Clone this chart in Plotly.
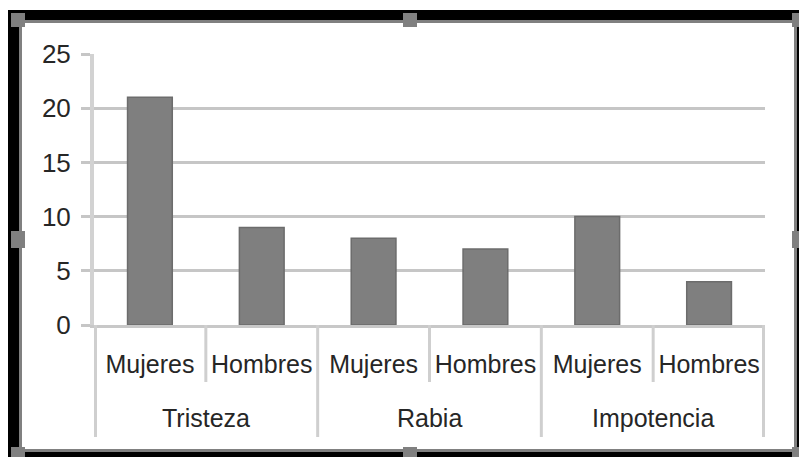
import plotly.graph_objects as go

# ---- data ----
groups = ["Tristeza", "Tristeza", "Rabia", "Rabia", "Impotencia", "Impotencia"]
subs = ["Mujeres", "Hombres", "Mujeres", "Hombres", "Mujeres", "Hombres"]
values = [21, 9, 8, 7, 10, 4]
y_ticks = [0, 5, 10, 15, 20, 25]

W, H = 799, 457
L, R, T, B = 94, 34, 54, 132
PW, PH = W - L - R, H - T - B

FONT = "Liberation Sans"
TXT = "#262626"
GRID = "#c6c6c6"

idx = list(range(len(values)))

fig = go.Figure()
fig.add_trace(go.Bar(
    x=idx, y=values,
    marker=dict(color="#7f7f7f", line=dict(color="#6c6c6c", width=1.5)),
    width=0.4, hoverinfo="skip",
))


def px_x(x):
    return (x - L) / PW


def px_y(y):
    return (T + PH - y) / PH


shapes = []
# category boundary lines below the axis
y_sub = px_y(382)
y_grp = px_y(437)
group_names = []
for g in groups:
    if g not in group_names:
        group_names.append(g)
bounds = [i - 0.5 for i in idx] + [idx[-1] + 0.5]
for b in bounds:
    i_left = int(b - 0.5) if b > 0 else None
    i_right = int(b + 0.5) if b + 0.5 < len(idx) else None
    is_group = (i_left is None or i_right is None or groups[i_left] != groups[i_right])
    shapes.append(dict(type="line", xref="x", yref="paper", x0=b, x1=b,
                       y0=0, y1=y_grp if is_group else y_sub,
                       line=dict(color="#cfcfcf", width=6 if (i_left is None or i_right is None) else 3),
                       layer="above"))

# frame (Excel selection border)
BLACK = "#000000"
GRAY = "#808080"


def rect(x0, y0, x1, y1, color):
    shapes.append(dict(type="rect", xref="paper", yref="paper",
                       x0=px_x(x0), x1=px_x(x1), y0=px_y(y1), y1=px_y(y0),
                       fillcolor=color, line=dict(width=0), layer="above"))


rect(8, 10, 810, 20, BLACK)
rect(8, 452, 810, 470, BLACK)
rect(8, 10, 19, 470, BLACK)
rect(797, 10, 810, 470, BLACK)
rect(19, 20, 797, 23, GRAY)
rect(19, 449, 797, 452, GRAY)
rect(19, 20, 22, 452, GRAY)
rect(794, 20, 797, 452, GRAY)
for (hx, hy, hh) in [(11, 13, 14), (403, 13, 14), (792, 13, 14),
                     (11, 231, 17), (792, 231, 17),
                     (11, 447, 14), (403, 447, 14), (792, 447, 14)]:
    rect(hx, hy, hx + 14, hy + hh, GRAY)

annotations = []
for g in group_names:
    members = [i for i, gg in enumerate(groups) if gg == g]
    annotations.append(dict(x=sum(members) / len(members), y=px_y(418),
                            xref="x", yref="paper", text=g, showarrow=False,
                            xanchor="center", yanchor="middle",
                            font=dict(family=FONT, size=25, color=TXT)))

fig.update_layout(
    width=W, height=H,
    margin=dict(l=L, r=R, t=T, b=B),
    paper_bgcolor="white", plot_bgcolor="white",
    showlegend=False,
    shapes=shapes, annotations=annotations,
    xaxis=dict(range=[-0.5, len(idx) - 0.5], tickvals=idx, ticktext=subs,
               showgrid=False, zeroline=False, ticks="",
               showline=True, linecolor="#c8c8c8", linewidth=3,
               tickfont=dict(family=FONT, size=25, color=TXT),
               ticklabelstandoff=15, fixedrange=True),
    yaxis=dict(range=[0, 25], tickvals=y_ticks, showgrid=True, gridcolor=GRID, gridwidth=3,
               zeroline=False, showline=True, linecolor="#d2d2d2", linewidth=4,
               ticks="outside", ticklen=9, tickwidth=3, tickcolor=GRID,
               tickfont=dict(family=FONT, size=26, color=TXT),
               ticklabelstandoff=5, fixedrange=True),
    bargap=0.6,
)

fig.write_html("out.html", config={"displayModeBar": False})
